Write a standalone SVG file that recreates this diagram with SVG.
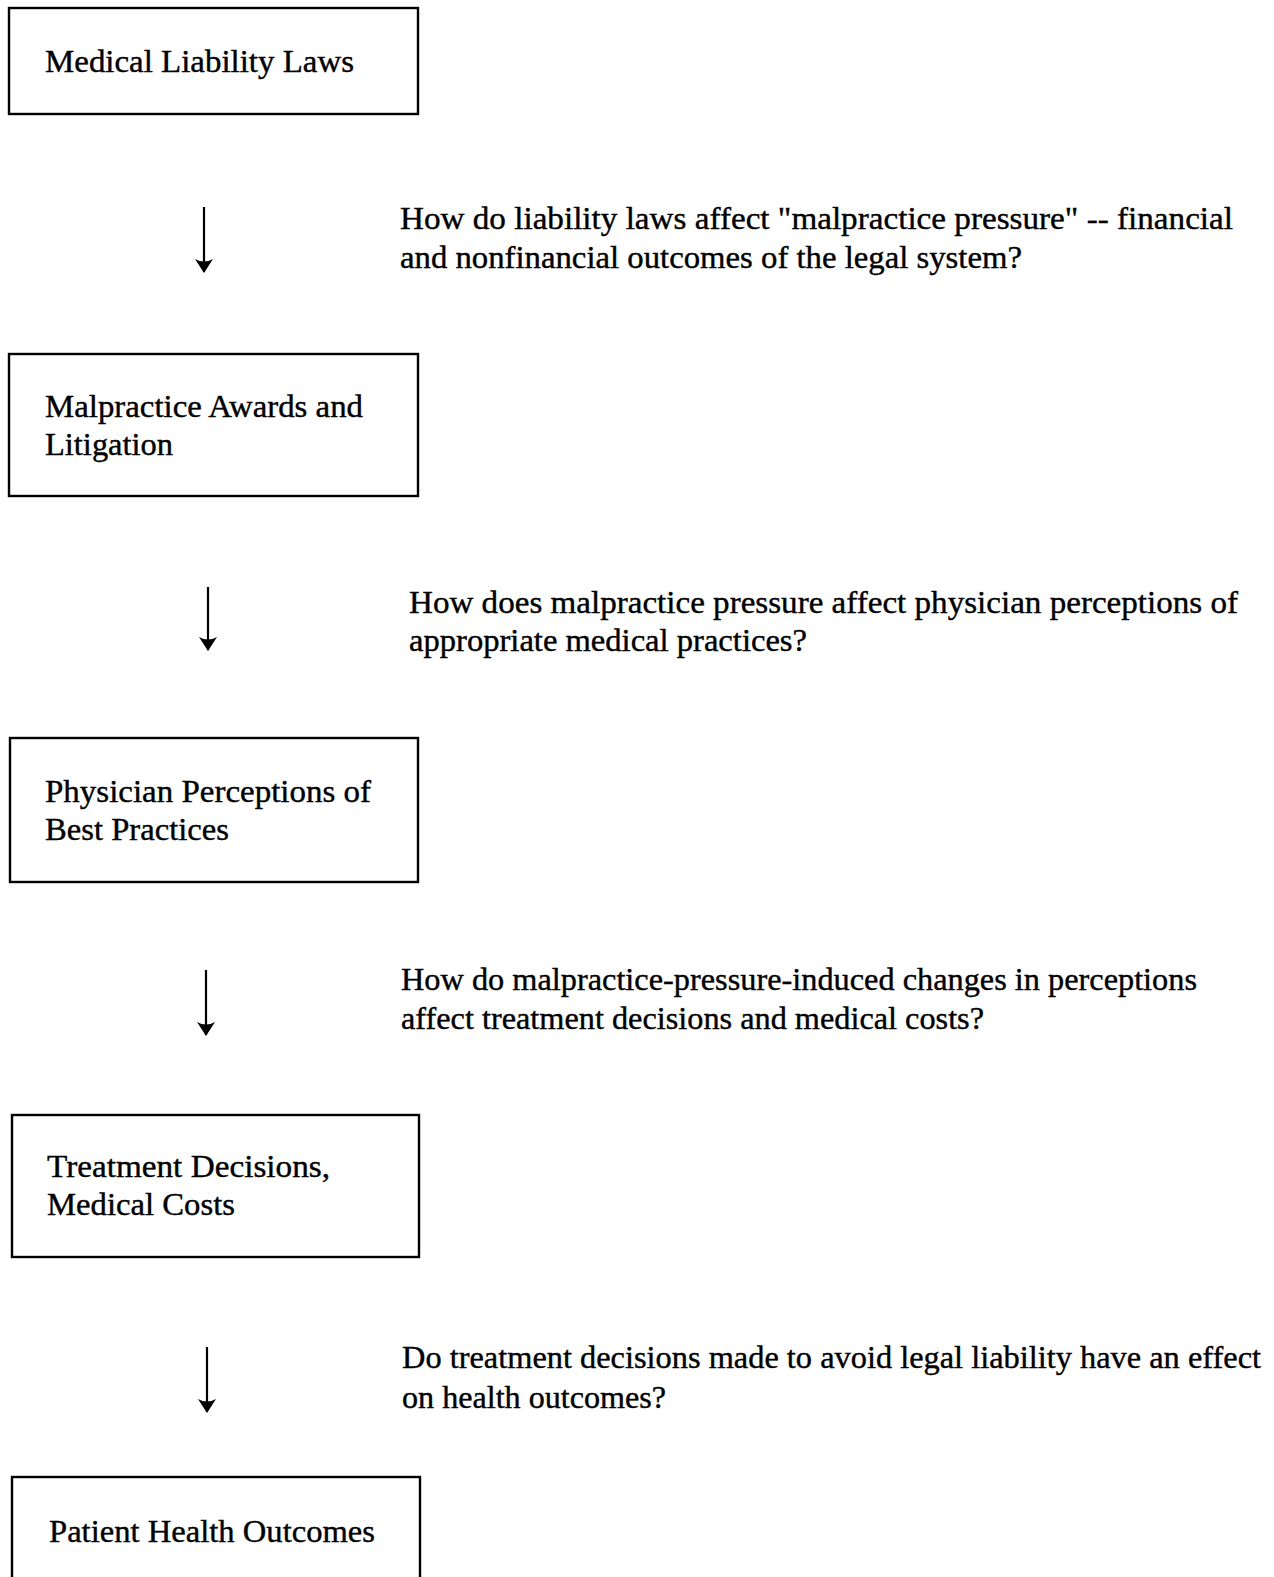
<svg xmlns="http://www.w3.org/2000/svg" width="1274" height="1577" viewBox="0 0 1274 1577">
<style>
.box{fill:#fff;stroke:#000;stroke-width:2.4}
.t{font-family:"Liberation Serif","Times New Roman",serif;font-size:32px;fill:#000;stroke:#000;stroke-width:0.4}
.q{font-family:"Liberation Serif","Times New Roman",serif;font-size:32px;fill:#000;stroke:#000;stroke-width:0.4}
.c{stroke:#000;stroke-width:2.2;fill:none}
</style>
<defs>
<marker id="ah" markerUnits="userSpaceOnUse" markerWidth="16" markerHeight="22" viewBox="-14 -11 16 22" refX="0" refY="0" orient="auto">
<path d="M1,0 L-13,-9 Q-8,0 -13,9 Z" fill="#000"/>
</marker>
</defs>
<rect width="1274" height="1577" fill="#fff"/>
<g id="n1"><rect class="box" x="9" y="8" width="409" height="106"/><text class="t" x="45" y="72" textLength="309" lengthAdjust="spacingAndGlyphs">Medical Liability Laws</text></g>
<g id="n2"><rect class="box" x="9" y="354" width="409" height="142"/><text class="t" x="45" y="417" textLength="318" lengthAdjust="spacingAndGlyphs">Malpractice Awards and</text><text class="t" x="45" y="455" textLength="128" lengthAdjust="spacingAndGlyphs">Litigation</text></g>
<g id="n3"><rect class="box" x="10" y="738" width="408" height="144"/><text class="t" x="45" y="802" textLength="326" lengthAdjust="spacingAndGlyphs">Physician Perceptions of</text><text class="t" x="45" y="840" textLength="184" lengthAdjust="spacingAndGlyphs">Best Practices</text></g>
<g id="n4"><rect class="box" x="12" y="1115" width="407" height="142"/><text class="t" x="47" y="1177" textLength="283" lengthAdjust="spacingAndGlyphs">Treatment Decisions,</text><text class="t" x="47" y="1215" textLength="188" lengthAdjust="spacingAndGlyphs">Medical Costs</text></g>
<g id="n5"><rect class="box" x="12" y="1477" width="408" height="130"/><text class="t" x="49" y="1542" textLength="326" lengthAdjust="spacingAndGlyphs">Patient Health Outcomes</text></g>
<g id="connectors">
<path class="c" d="M204,207 V272" marker-end="url(#ah)"/>
<path class="c" d="M208,587 V650" marker-end="url(#ah)"/>
<path class="c" d="M206,970 V1035" marker-end="url(#ah)"/>
<path class="c" d="M207,1347 V1412" marker-end="url(#ah)"/>
</g>
<g id="labels">
<text class="q" x="400" y="229" textLength="833" lengthAdjust="spacingAndGlyphs">How do liability laws affect "malpractice pressure" -- financial</text>
<text class="q" x="400" y="268" textLength="622" lengthAdjust="spacingAndGlyphs">and nonfinancial outcomes of the legal system?</text>
<text class="q" x="409" y="613" textLength="829" lengthAdjust="spacingAndGlyphs">How does malpractice pressure affect physician perceptions of</text>
<text class="q" x="409" y="651" textLength="398" lengthAdjust="spacingAndGlyphs">appropriate medical practices?</text>
<text class="q" x="401" y="990" textLength="796" lengthAdjust="spacingAndGlyphs">How do malpractice-pressure-induced changes in perceptions</text>
<text class="q" x="401" y="1029" textLength="583" lengthAdjust="spacingAndGlyphs">affect treatment decisions and medical costs?</text>
<text class="q" x="402" y="1368" textLength="859" lengthAdjust="spacingAndGlyphs">Do treatment decisions made to avoid legal liability have an effect</text>
<text class="q" x="402" y="1408" textLength="264" lengthAdjust="spacingAndGlyphs">on health outcomes?</text>
</g>
</svg>
